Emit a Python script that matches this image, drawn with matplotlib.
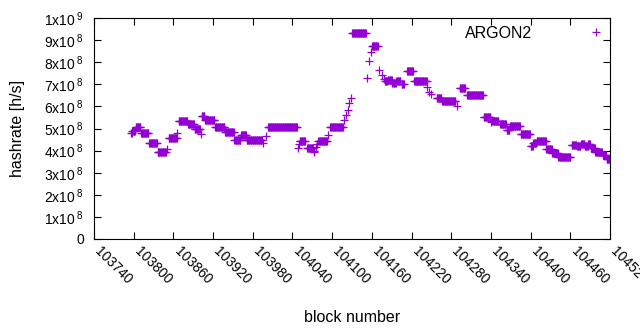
import numpy as np
import matplotlib
matplotlib.use("Agg")
import matplotlib.pyplot as plt
from matplotlib.ticker import FixedLocator, FuncFormatter
from matplotlib.transforms import ScaledTranslation

plt.rcParams['font.family'] = ['Liberation Sans', 'DejaVu Sans']
plt.rcParams['mathtext.fontset'] = 'custom'
plt.rcParams['mathtext.rm'] = 'Liberation Sans'
plt.rcParams['mathtext.it'] = 'Liberation Sans'

# run-length data: (first block, last block, hashrate in 1e8 h/s)
run_start = [103796, 103798, 103803, 103811, 103823, 103836, 103850, 103853, 103866, 103868,
             103882, 103892, 103901, 103903, 103908, 103923, 103938, 103952, 103962, 103971,
             103995, 104000, 104003, 104048, 104050, 104051, 104062, 104072, 104073, 104075,
             104077, 104079, 104094, 104097, 104118, 104121, 104124, 104126, 104128, 104130,
             104152, 104156, 104159, 104160, 104171, 104175, 104178, 104180, 104184, 104191,
             104197, 104205, 104213, 104224, 104244, 104247, 104250, 104258, 104266, 104288,
             104293, 104304, 104329, 104340, 104342, 104354, 104364, 104369, 104385, 104400,
             104404, 104409, 104424, 104433, 104442, 104462, 104470, 104476, 104482, 104487,
             104491, 104498, 104509, 104515]
run_end = [103797, 103802, 103810, 103822, 103835, 103849, 103850, 103865, 103866, 103881,
           103891, 103900, 103901, 103907, 103922, 103937, 103951, 103961, 103970, 103994,
           103995, 104000, 104047, 104048, 104050, 104059, 104071, 104072, 104073, 104075,
           104077, 104092, 104094, 104116, 104118, 104121, 104124, 104126, 104128, 104151,
           104152, 104156, 104159, 104169, 104171, 104175, 104178, 104183, 104190, 104196,
           104203, 104208, 104222, 104243, 104244, 104247, 104250, 104265, 104286, 104288,
           104301, 104328, 104339, 104340, 104351, 104363, 104368, 104384, 104399, 104403,
           104408, 104423, 104432, 104441, 104460, 104469, 104475, 104481, 104486, 104490,
           104497, 104508, 104514, 104522]
run_value = [4.8, 4.9, 5.05, 4.8, 4.35, 3.95, 4.05, 4.55, 4.8, 5.35,
             5.2, 5.0, 4.75, 5.55, 5.4, 5.07, 4.85, 4.5, 4.7, 4.5,
             4.35, 4.65, 5.07, 4.1, 4.3, 4.45, 4.1, 3.95, 4.0, 4.15,
             4.3, 4.45, 4.7, 5.07, 5.4, 5.6, 5.85, 6.15, 6.4, 9.33,
             7.3, 8.05, 8.45, 8.75, 7.65, 7.4, 7.25, 7.15, 7.2, 7.05,
             7.15, 7.0, 7.6, 7.15, 6.9, 6.65, 6.55, 6.4, 6.25, 6.0,
             6.85, 6.53, 5.5, 5.3, 5.35, 5.2, 4.95, 5.1, 4.75, 4.2,
             4.35, 4.45, 4.05, 3.9, 3.7, 4.25, 4.2, 4.3, 4.2, 4.3,
             4.1, 3.95, 3.8, 3.6]

blocks = np.concatenate([np.arange(s, e + 1) for s, e in zip(run_start, run_end)])
hashrate = np.concatenate([np.full(e - s + 1, v * 1e8) for s, e, v in zip(run_start, run_end, run_value)])

x_ticks = list(range(103740, 104521, 60))
y_ticks = [i * 1e8 for i in range(11)]

fig = plt.figure(figsize=(6.4, 3.3), dpi=100)
ax = fig.add_axes([94 / 640, 1 - 239 / 330, (610 - 94) / 640, (239 - 18) / 330])
ax.plot(blocks, hashrate, linestyle='none', marker='+', markersize=5.5,
        markeredgewidth=0.9, color='#9400D3', label='ARGON2')
ax.set_xlim(103740, 104520)
ax.set_ylim(0, 1e9)

ax.xaxis.set_major_locator(FixedLocator(x_ticks))
ax.yaxis.set_major_locator(FixedLocator(y_ticks))

def yfmt(v, pos):
    n = int(round(v / 1e8))
    if n == 0:
        return '0'
    if n == 10:
        return r'1x10$^{\ 9}$'
    return r'%dx10$^{\ 8}$' % n

ax.yaxis.set_major_formatter(FuncFormatter(yfmt))
ax.tick_params(direction='in', length=5, width=0.8, top=True, right=True, labelsize=10, colors='black')
ax.tick_params(axis='y', pad=7)
ax.tick_params(axis='x', pad=5)
off = ScaledTranslation(8 / 100, 2 / 100, fig.dpi_scale_trans)
for lbl in ax.get_xticklabels():
    lbl.set_rotation(-45)
    lbl.set_ha('left')
    lbl.set_va('top')
    lbl.set_rotation_mode('anchor')
    lbl.set_transform(lbl.get_transform() + off)
for sp in ax.spines.values():
    sp.set_linewidth(0.8)

ax.set_xlabel('block number', fontsize=11.5, labelpad=17)
ax.set_ylabel('hashrate [h/s]', fontsize=11.5, labelpad=14)
ax.legend(loc='upper right', frameon=False, markerfirst=False, fontsize=11.5,
          handlelength=3.5, handletextpad=2.2, bbox_to_anchor=(1.054, 1.03))
fig.savefig('out.png', dpi=100)
